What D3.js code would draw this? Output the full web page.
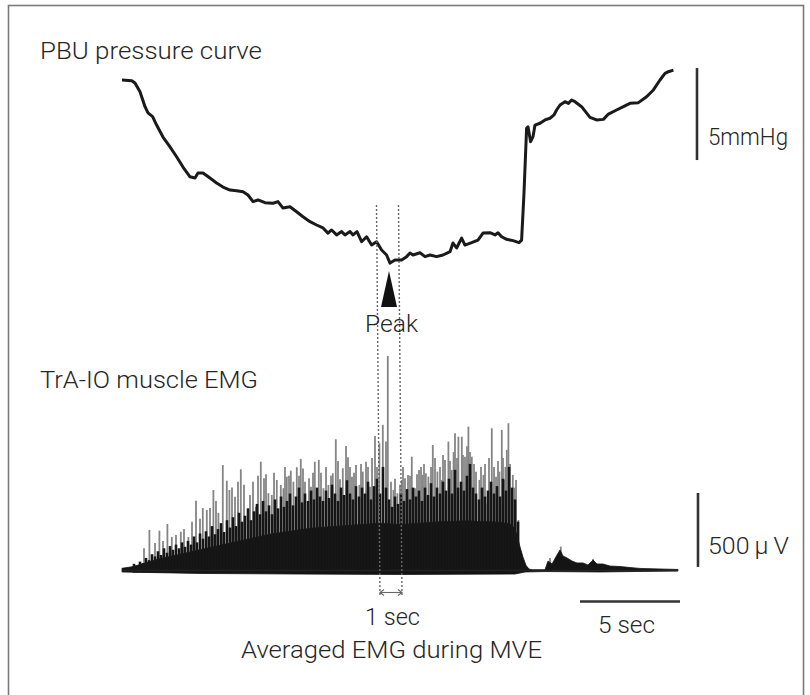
<!DOCTYPE html>
<html><head><meta charset="utf-8">
<script src="https://cdn.jsdelivr.net/npm/d3@7"></script>
<style>html,body{margin:0;padding:0;background:#fff;} svg{display:block;}</style>
</head><body>
<svg id="chart" width="810" height="695"></svg>
<script>
// ---------- DATA ----------
// PBU pressure curve: time (s) and pressure (mmHg)
const pressureTime = [0,0.49,0.65,0.9,1.15,1.3,1.53,1.73,2.05,2.4,2.73,3.05,3.4,3.65,3.8,4.05,4.4,4.73,5.05,5.4,5.73,6.05,6.3,6.55,6.8,7.15,7.55,7.8,8.05,8.4,8.73,9.05,9.4,9.73,10.05,10.3,10.48,10.73,10.98,11.15,11.4,11.55,11.75,11.98,12.23,12.48,12.73,12.98,13.23,13.4,13.65,13.98,14.23,14.4,14.55,14.9,15.15,15.4,15.73,16.05,16.4,16.55,16.73,16.98,17.15,17.48,17.8,18.05,18.4,18.65,18.8,18.98,19.23,19.55,19.85,19.98,20.1,20.23,20.3,20.43,20.55,20.65,20.9,21.15,21.4,21.6,21.73,21.9,22.15,22.32,22.48,22.65,22.98,23.4,23.73,24.07,24.32,24.73,25.07,25.4,25.82,26.23,26.57,26.9,27.15,27.32,27.57];
const pressureValue = [40.0,39.96,39.84,39.36,38.55,38.21,38.01,37.55,36.9,36.36,35.83,35.27,34.74,34.67,34.95,34.95,34.67,34.4,34.18,34.02,33.98,33.93,33.75,33.39,33.48,33.33,33.3,33.39,33.04,33.11,32.84,32.57,32.3,32.12,31.96,31.68,31.85,31.58,31.76,31.58,31.76,31.58,31.76,31.21,31.48,31.03,31.21,30.76,30.49,30.05,30.22,30.22,30.4,30.6,30.49,30.61,30.4,30.49,30.4,30.49,30.67,31.14,30.87,31.41,31.03,31.16,31.3,31.68,31.7,31.58,31.7,31.48,31.34,31.27,31.16,31.3,33.86,37.38,37.46,36.65,36.92,37.55,37.65,37.83,37.92,38.1,38.37,38.64,38.82,38.73,38.91,38.82,38.55,37.97,37.83,37.86,38.15,38.37,38.55,38.73,38.77,39.09,39.46,40.0,40.36,40.45,40.54];

// TrA-IO EMG: solid activity band (upper edge, µV)
const emgTopTime = [0,0.5,0.9,1.4,1.9,2.4,2.9,3.4,3.9,4.4,4.9,5.4,5.9,6.4,6.9,7.4,7.9,8.4,8.9,9.4,9.9,10.4,10.9,11.4,11.9,12.4,12.9,13.4,13.9,14.4,14.9,15.4,15.9,16.4,16.9,17.4,17.9,18.4,18.9,19.4,19.6,19.75,19.9,20.05,20.2,20.35,20.5,21.15,21.3,21.5,21.75,21.9,22.05,22.25,22.5,22.75,23.05,23.3,23.55,23.75,24.05,24.4,24.9,25.4,25.9,27.8];
const emgTopValue = [15,25,40,60,80,95,110,125,140,155,170,185,200,215,230,245,255,265,275,285,290,295,300,305,310,315,320,315,310,315,320,325,330,330,335,335,330,330,325,315,290,240,160,90,35,10,5,5,64,44,105,139,98,85,64,51,51,37,71,44,44,30,27,20,14,7];
// EMG below baseline (µV)
const emgBottomTime = [0,3.9,8.9,13.9,19.65,20.15,21.15,23.9,27.8];
const emgBottomValue = [-10,-20,-24,-27,-24,-10,-7,-10,-3];
// dark bursts rising from the solid band (time s, µV)
const darkTime = [0.6,0.75,0.9,1.05,1.2,1.35,1.5,1.65,1.8,1.95,2.1,2.25,2.4,2.55,2.7,2.85,3.0,3.15,3.3,3.45,3.6,3.75,3.9,4.05,4.2,4.35,4.5,4.65,4.8,4.95,5.1,5.25,5.4,5.55,5.7,5.85,6.0,6.15,6.3,6.45,6.6,6.75,6.9,7.05,7.2,7.35,7.5,7.65,7.8,7.95,8.1,8.25,8.4,8.55,8.7,8.85,9.0,9.15,9.3,9.45,9.6,9.75,9.9,10.05,10.2,10.35,10.5,10.65,10.8,10.95,11.1,11.25,11.4,11.55,11.7,11.85,12.0,12.15,12.3,12.45,12.6,12.75,12.9,13.05,13.2,13.35,13.5,13.65,13.8,13.95,14.1,14.25,14.4,14.55,14.7,14.85,15.0,15.15,15.3,15.45,15.6,15.75,15.9,16.05,16.2,16.35,16.5,16.65,16.8,16.95,17.1,17.25,17.4,17.55,17.7,17.85,18.0,18.15,18.3,18.45,18.6,18.75,18.9,19.05,19.2,19.35,19.5,19.65,19.8];
const darkValue = [45,30,60,50,85,70,110,95,130,105,150,120,165,140,175,150,190,160,200,175,230,190,250,215,265,230,300,245,280,320,260,340,290,360,300,390,330,370,420,340,400,450,380,470,400,440,380,480,420,500,430,470,520,440,500,560,460,520,470,540,480,560,500,470,540,490,580,520,470,560,510,610,520,480,570,500,560,520,600,480,570,620,520,700,560,480,430,500,450,520,470,550,480,560,500,540,470,560,510,590,500,560,520,600,540,620,520,680,560,600,540,640,720,560,520,480,560,500,540,600,520,570,500,620,540,700,560,480,330];
// tall individual EMG spikes (time s, µV)
const spikeTime = [1.1,1.37,1.65,1.87,2.05,2.27,2.49,2.7,2.94,3.1,3.32,3.5,3.7,3.9,4.04,4.24,4.4,4.57,4.7,4.82,5.04,5.24,5.37,5.5,5.65,5.8,5.94,6.1,6.4,6.55,6.69,6.8,6.94,7.1,7.2,7.32,7.49,7.6,7.74,7.94,8.07,8.15,8.24,8.35,8.44,8.57,8.74,8.85,8.94,9.05,9.15,9.35,9.45,9.55,9.64,9.84,9.95,10.07,10.2,10.32,10.45,10.54,10.69,10.8,10.9,11.04,11.2,11.3,11.4,11.5,11.6,11.7,11.87,11.95,12.04,12.2,12.3,12.4,12.5,12.65,12.75,12.87,13.04,13.2,13.29,13.45,13.57,13.65,13.77,13.9,13.99,14.05,14.15,14.3,14.4,14.49,14.65,14.75,14.85,14.95,15.02,15.1,15.19,15.32,15.45,15.54,15.65,15.77,15.9,15.99,16.05,16.15,16.32,16.4,16.49,16.58,16.65,16.75,16.82,16.99,17.05,17.15,17.25,17.32,17.4,17.49,17.6,17.7,17.87,17.95,18.07,18.15,18.27,18.35,18.49,18.6,18.7,18.8,18.87,18.99,19.05,19.1,19.17,19.24,19.32,19.4,19.54,19.62,19.7,19.82,21.4,21.94,23.55];
const spikeValue = [150,274,186,269,200,314,226,240,262,280,226,330,472,350,422,409,422,544,470,389,713,607,544,560,499,600,684,580,510,600,431,640,735,623,650,522,510,660,612,578,556,700,634,640,675,600,698,640,754,690,600,623,566,660,735,747,660,556,700,578,640,657,887,740,617,691,842,765,700,634,660,713,578,720,668,735,700,566,760,909,700,860,984,871,1450,600,544,620,522,580,612,700,623,646,640,769,556,650,679,700,646,720,657,634,700,848,760,668,700,612,780,747,871,740,679,800,927,760,904,904,780,769,840,972,800,769,720,668,612,700,646,720,454,760,961,700,634,740,668,950,760,612,700,815,995,720,646,560,612,341,85,161,78];

const mveWindow = [12.85, 13.95];     // s, averaged-EMG window
const peakTime = 13.35;               // s, pressure peak
const scaleTime = [22.9, 27.9];       // 5 sec bar
const scalePressure = [35.65, 40.65]; // 5 mmHg bar
const scaleEmg = [24, 524];           // 500 µV bar

const labels = {
  pbu: "PBU pressure curve",
  emg: "TrA-IO muscle EMG",
  peak: "Peak",
  mmHg: "5mmHg",
  uv: "500\u2009\u03BC\u2009V",
  oneSec: "1 sec",
  fiveSec: "5 sec",
  avg: "Averaged EMG during MVE"
};

// ---------- SCALES ----------
const svg = d3.select("#chart");
const x = d3.scaleLinear().domain([0, 27.5]).range([122, 672]);
const yP = d3.scaleLinear().domain([30, 40]).range([264, 80]);
const yE = d3.scaleLinear().domain([0, 500]).range([570.5, 496.5]);

// Frame
svg.append("rect").attr("x", 8.5).attr("y", 5.5).attr("width", 795).attr("height", 700)
  .attr("fill", "none").attr("stroke", "#7a7a7a").attr("stroke-width", 1.6);

const font = "Roboto,'Liberation Sans',Arial,sans-serif";
function label(txt, px, py, len) {
  svg.append("text").attr("x", px).attr("y", py)
    .attr("font-family", font).attr("font-size", 23).attr("font-weight", 300).attr("fill", "#262626")
    .attr("textLength", len).attr("lengthAdjust", "spacingAndGlyphs")
    .text(txt);
}

// ---------- PRESSURE ----------
const pData = pressureTime.map((t, i) => [t, pressureValue[i]]);
svg.append("path").datum(pData)
  .attr("d", d3.line().x(d => x(d[0])).y(d => yP(d[1])))
  .attr("fill", "none").attr("stroke", "#1a1a1a").attr("stroke-width", 3)
  .attr("stroke-linejoin", "round");

// ---------- EMG ----------
svg.append("g").selectAll("line").data(spikeTime.map((t, i) => [t, spikeValue[i]]))
  .join("line")
  .attr("x1", d => x(d[0])).attr("x2", d => x(d[0]))
  .attr("y1", yE(0)).attr("y2", d => yE(d[1]))
  .attr("stroke", "#858585").attr("stroke-width", 1.8);

const topPts = emgTopTime.map((t, i) => [t, emgTopValue[i]]);
const botPts = emgBottomTime.map((t, i) => [t, emgBottomValue[i]]).reverse();
const envPath = d3.line().x(d => x(d[0])).y(d => yE(d[1]));
svg.append("path").attr("d", envPath(topPts.concat(botPts)) + "Z")
  .attr("fill", "#141414").attr("stroke", "#141414").attr("stroke-width", 0.8);

svg.append("g").selectAll("line").data(darkTime.map((t, i) => [t, darkValue[i]]))
  .join("line")
  .attr("x1", d => x(d[0])).attr("x2", d => x(d[0]))
  .attr("y1", yE(-15)).attr("y2", d => yE(d[1]))
  .attr("stroke", "#161616").attr("stroke-width", 2.6);

svg.append("line").attr("x1", x(0)).attr("x2", x(27.8)).attr("y1", yE(0)).attr("y2", yE(0))
  .attr("stroke", "#222").attr("stroke-width", 1.4);

// ---------- MVE window markers ----------
mveWindow.forEach(t => {
  svg.append("line").attr("x1", x(t) - 2.5).attr("x2", x(t) + 1)
    .attr("y1", 205).attr("y2", 596)
    .attr("stroke", "#666").attr("stroke-width", 1.4).attr("stroke-dasharray", "2,2");
});
const px = x(peakTime);
svg.append("path").attr("d", `M${px},271 L${px + 8},307 L${px - 8},307 Z`).attr("fill", "#111");

const ay = 592.5, ax1 = x(mveWindow[0]) + 1, ax2 = x(mveWindow[1]) + 1;
svg.append("line").attr("x1", ax1).attr("x2", ax2).attr("y1", ay).attr("y2", ay)
  .attr("stroke", "#666").attr("stroke-width", 1.1);
svg.append("path").attr("d", `M${ax1 + 4},${ay - 3} L${ax1},${ay} L${ax1 + 4},${ay + 3} M${ax2 - 4},${ay - 3} L${ax2},${ay} L${ax2 - 4},${ay + 3}`)
  .attr("fill", "none").attr("stroke", "#666").attr("stroke-width", 1.1);

// ---------- SCALE BARS ----------
svg.append("line").attr("x1", 697).attr("x2", 697)
  .attr("y1", yP(scalePressure[0])).attr("y2", yP(scalePressure[1]))
  .attr("stroke", "#333").attr("stroke-width", 2.6);
svg.append("line").attr("x1", 698).attr("x2", 698)
  .attr("y1", yE(scaleEmg[0])).attr("y2", yE(scaleEmg[1]))
  .attr("stroke", "#333").attr("stroke-width", 2.6);
svg.append("line").attr("x1", x(scaleTime[0])).attr("x2", x(scaleTime[1]))
  .attr("y1", 601.5).attr("y2", 601.5)
  .attr("stroke", "#333").attr("stroke-width", 2.6);

// ---------- TEXT ----------
label(labels.pbu, 40, 59, 222);
label(labels.emg, 40, 388, 218);
label(labels.peak, 365, 332, 53);
label(labels.mmHg, 708, 145, 80);
label(labels.uv, 708, 554, 81);
label(labels.oneSec, 365, 625, 55);
label(labels.fiveSec, 598, 633, 57);
label(labels.avg, 241, 658, 301);
</script>
</body></html>
